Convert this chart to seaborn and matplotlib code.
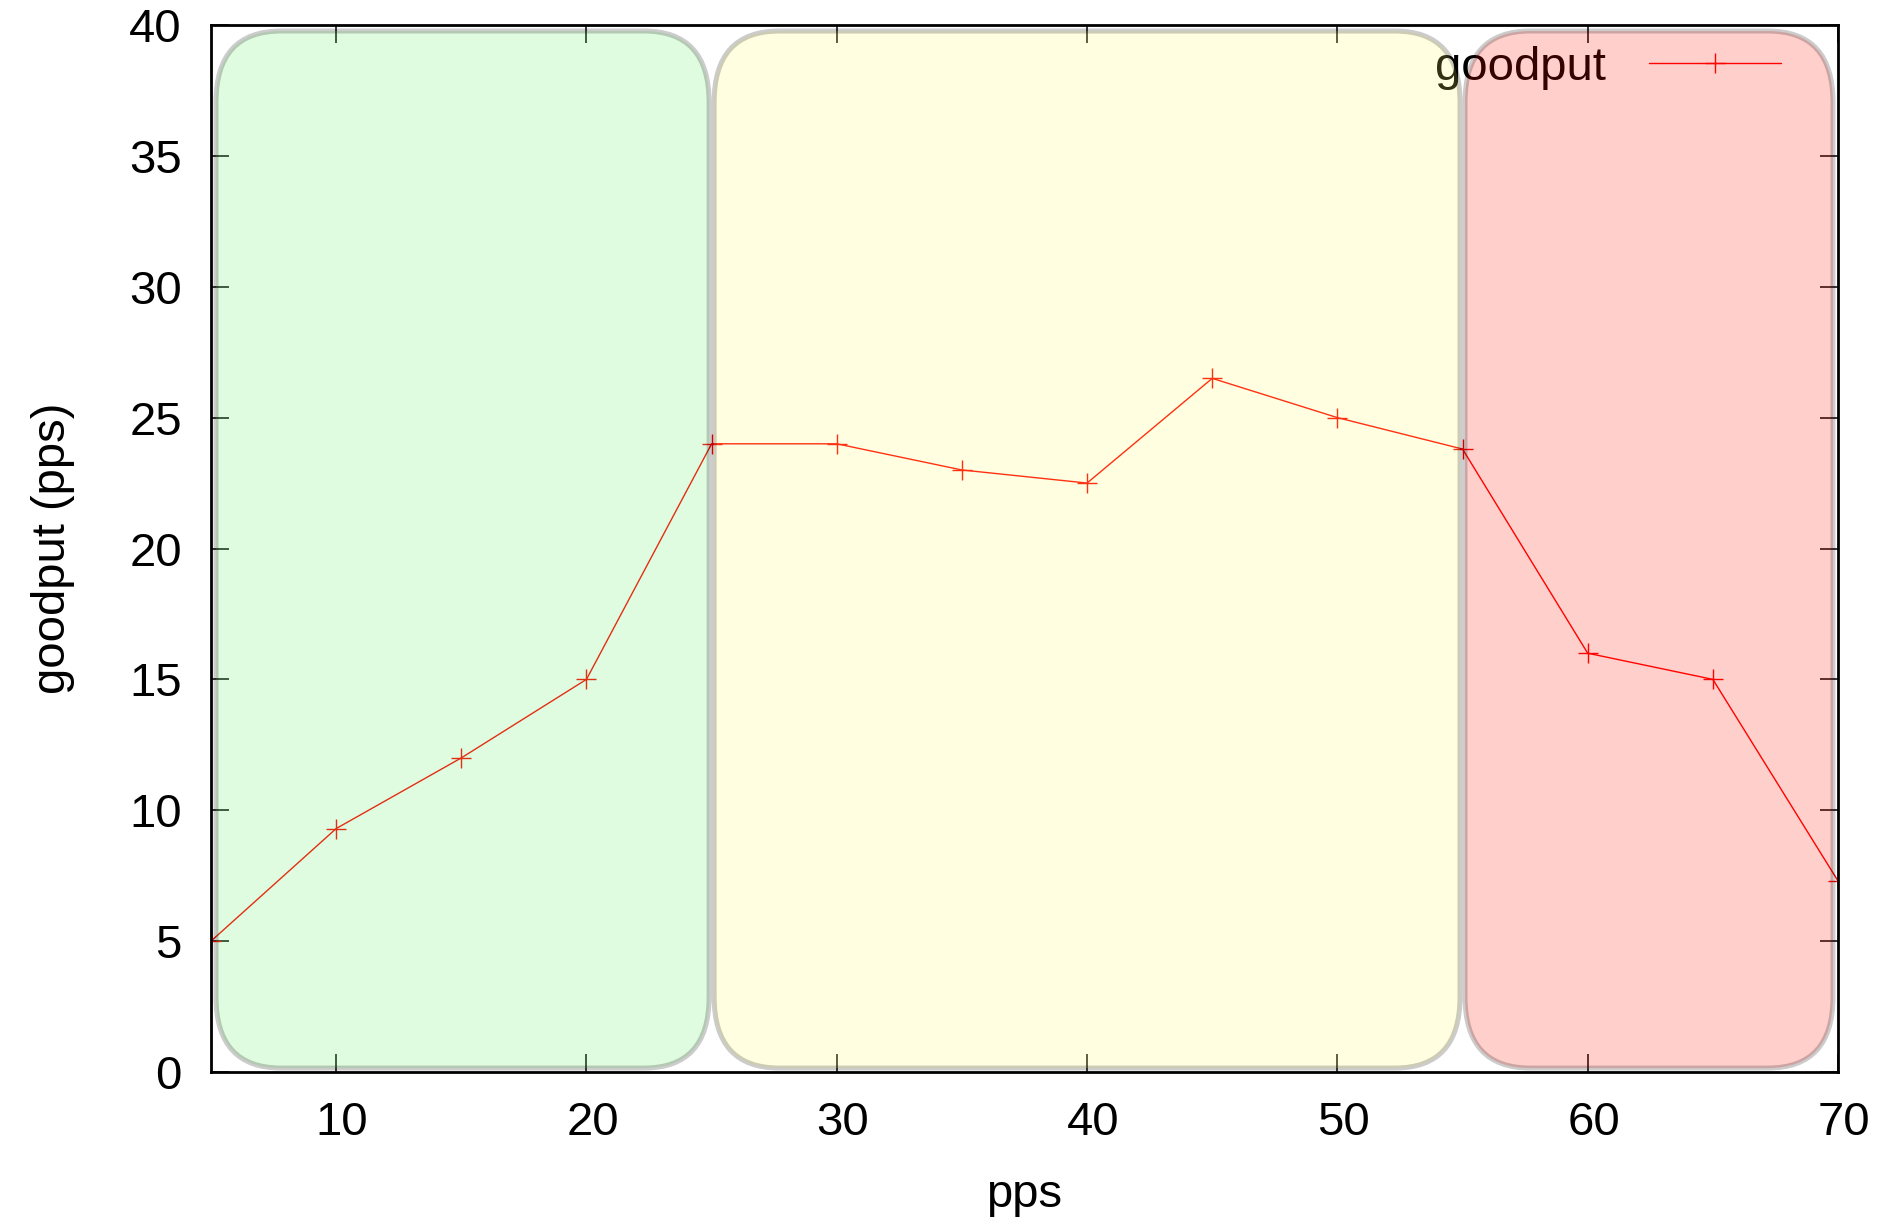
import numpy as np
import pandas as pd
import seaborn as sns
import matplotlib
matplotlib.use("Agg")
import matplotlib.pyplot as plt
import matplotlib.transforms as mtrans
from matplotlib.patches import FancyBboxPatch

# data
pps = [5, 10, 15, 20, 25, 30, 35, 40, 45, 50, 55, 60, 65, 70]
goodput = [5, 9.3, 12, 15, 24, 24, 23, 22.5, 26.5, 25, 23.8, 16, 15, 7.3]

# regions: (start, end, colour)
region_start = [5.2, 25.1, 55.1]
region_end = [24.9, 54.9, 69.8]
region_color = ["#64f064", "#fffa64", "#ff1000"]

xticks = [10, 20, 30, 40, 50, 60, 70]
yticks = [0, 5, 10, 15, 20, 25, 30, 35, 40]

df = pd.DataFrame({"pps": pps, "goodput": goodput})

sns.set_style("white")
plt.rcParams['font.family'] = ['Liberation Sans', 'DejaVu Sans']
plt.rcParams['text.color'] = 'black'
plt.rcParams['axes.labelcolor'] = 'black'
plt.rcParams['xtick.color'] = 'black'
plt.rcParams['ytick.color'] = 'black'

fig = plt.figure(figsize=(18.86, 12.22), dpi=100)
ax = fig.add_axes([211 / 1886, 1 - 1072 / 1222, 1627 / 1886, 1047 / 1222])

sns.lineplot(data=df, x="pps", y="goodput", ax=ax, color="red", lw=1,
             marker="+", markersize=14, mec="red", mew=1, label="goodput",
             zorder=2)

ax.set_xlim(5, 70)
ax.set_ylim(0, 40)
ax.set_xticks(xticks)
ax.set_yticks(yticks)

# rounded shaded boxes
asp = (1627 / 65) / (1047 / 40)
for s, e, c in zip(region_start, region_end, region_color):
    box = FancyBboxPatch((s, 0.15), e - s, 39.62,
                         boxstyle="round,pad=0,rounding_size=2.6",
                         mutation_aspect=1 / asp,
                         facecolor=c, edgecolor="black", lw=3.6, alpha=0.2,
                         zorder=3)
    ax.add_patch(box)

ax.tick_params(axis="both", which="both", direction="in", length=13, width=1.1,
               top=True, right=True, bottom=True, left=True,
               labelsize=34, pad=21, color="black", labelcolor="black")
for sp in ax.spines.values():
    sp.set_linewidth(2)
    sp.set_color("black")
    sp.set_zorder(5)

# gnuplot puts x labels a touch to the right
shift = mtrans.ScaledTranslation(6 / 100, 0, fig.dpi_scale_trans)
for lbl in ax.get_xticklabels():
    lbl.set_transform(lbl.get_transform() + shift)

ax.set_xlabel("pps", fontsize=34, labelpad=20)
ax.set_ylabel("goodput (pps)", fontsize=34, labelpad=39)

leg = ax.legend(loc="upper right", bbox_to_anchor=((1781 - 211) / 1627, 0.98),
                frameon=False, markerfirst=False, fontsize=34,
                handlelength=2.8, handletextpad=0.9, borderpad=0, borderaxespad=0)
leg.set_zorder(1)

fig.savefig("out.png", dpi=100)
